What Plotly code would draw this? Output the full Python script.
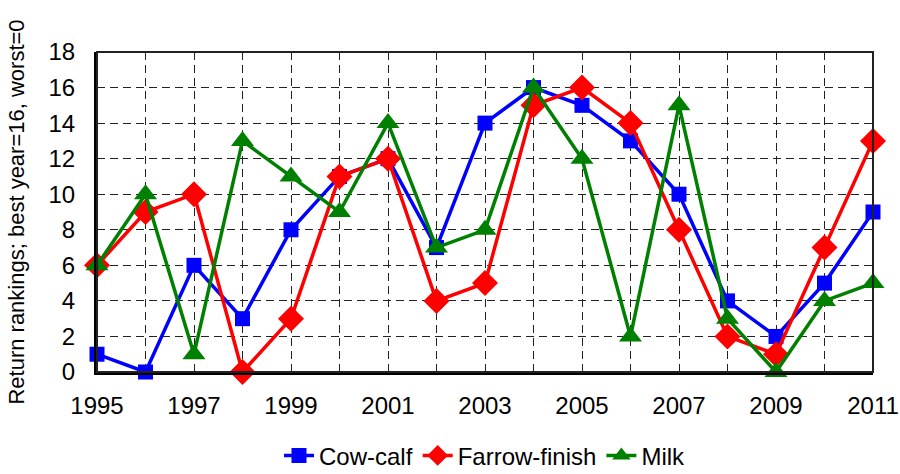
import plotly.graph_objects as go

years = list(range(1995, 2012))
cow_calf = [1, 0, 6, 3, 8, 11, 12, 7, 14, 16, 15, 13, 10, 4, 2, 5, 9]
farrow_finish = [6, 9, 10, 0, 3, 11, 12, 4, 5, 15, 16, 14, 8, 2, 1, 7, 13]
milk = [6, 10, 1, 13, 11, 9, 14, 7, 8, 16, 12, 2, 15, 3, 0, 4, 5]

series = [
    ("Cow-calf", cow_calf, "#0000FF", "square", 15),
    ("Farrow-finish", farrow_finish, "#FF0000", "diamond", 20),
    ("Milk", milk, "#008000", "triangle-up", 20),
]

fig = go.Figure()
for name, vals, color, symbol, size in series:
    fig.add_trace(go.Scatter(
        x=years, y=vals, name=name, mode="lines+markers",
        line=dict(color=color, width=3.5),
        marker=dict(symbol=symbol, size=size, color=color),
        cliponaxis=False,
    ))

font = dict(family="Liberation Sans, Arial, sans-serif", size=24, color="black")
grid_dash = "8px,5px"

fig.update_layout(
    width=900, height=474,
    margin=dict(l=97, r=27, t=52, b=102, autoexpand=False),
    plot_bgcolor="white", paper_bgcolor="white",
    font=font,
    showlegend=True,
    legend=dict(orientation="h", x=0.5, xanchor="center", y=-0.262, yanchor="middle",
                font=dict(size=24), borderwidth=0, tracegroupgap=0),
    xaxis=dict(
        range=[1995, 2011], tick0=1995, dtick=2, automargin=False,
        showgrid=True, gridcolor="#222222", griddash=grid_dash, gridwidth=1,
        minor=dict(dtick=1, showgrid=True, gridcolor="#222222", griddash=grid_dash, gridwidth=1),
        showline=True, linecolor="black", linewidth=3,
        ticks="", zeroline=False, ticklabelstandoff=10,
    ),
    yaxis=dict(
        range=[0, 18], dtick=2, automargin=False,
        showgrid=True, gridcolor="#222222", griddash=grid_dash, gridwidth=1,
        showline=True, linecolor="black", linewidth=3,
        ticks="", zeroline=False, ticklabelstandoff=14,
        title=dict(text="Return rankings; best year=16, worst=0", font=dict(size=22), standoff=18),
    ),
    shapes=[dict(type="rect", xref="x domain", yref="y domain", x0=0, x1=1, y0=0, y1=1,
                 line=dict(color="#222222", width=2), layer="above")],
)

fig.write_html("out.html")
